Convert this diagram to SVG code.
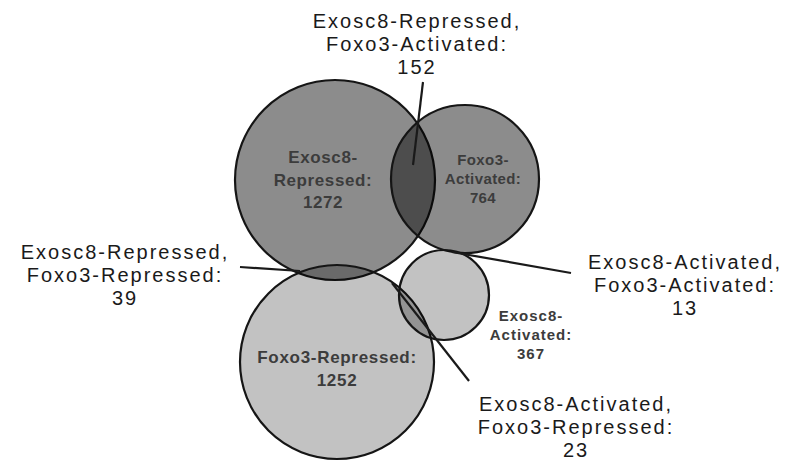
<svg xmlns="http://www.w3.org/2000/svg" width="792" height="465" viewBox="0 0 792 465">
<style>
.circ{stroke:#151515;stroke-width:2.2}
.dark{fill:#000;fill-opacity:0.45}
.light{fill:#000;fill-opacity:0.24}
.lbl{font-family:"Liberation Sans",Arial,sans-serif;font-size:20px;fill:#1a1a1a;text-anchor:middle;letter-spacing:2px}
.inner{font-family:"Liberation Sans",Arial,sans-serif;font-weight:bold;fill:#3c3c3c;text-anchor:middle}
.lead{stroke:#1a1a1a;stroke-width:2.2;fill:none}
</style>
<rect width="792" height="465" fill="#fff"/>
<g id="exosc8-repressed">
<circle class="circ dark" cx="335" cy="180" r="100"/>
<text class="inner" font-size="17" letter-spacing="0.6"><tspan x="323" y="163">Exosc8-</tspan><tspan x="323" y="186">Repressed:</tspan><tspan x="323" y="208">1272</tspan></text>
</g>
<g id="foxo3-activated">
<circle class="circ dark" cx="465" cy="179" r="74"/>
<text class="inner" font-size="15" letter-spacing="0.4"><tspan x="483" y="165">Foxo3-</tspan><tspan x="483" y="184">Activated:</tspan><tspan x="483" y="203">764</tspan></text>
</g>
<g id="foxo3-repressed">
<circle class="circ light" cx="337" cy="362" r="97"/>
<text class="inner" font-size="17" letter-spacing="0.7"><tspan x="337" y="363">Foxo3-Repressed:</tspan><tspan x="337" y="386">1252</tspan></text>
</g>
<g id="exosc8-activated">
<circle class="circ light" cx="444" cy="295" r="45"/>
<text class="inner" font-size="15" letter-spacing="1" fill="#555"><tspan x="531" y="321">Exosc8-</tspan><tspan x="531" y="340">Activated:</tspan><tspan x="531" y="359">367</tspan></text>
</g>
<g id="connectors">
<line class="lead" x1="423" y1="82" x2="413" y2="165"/>
<line class="lead" x1="240" y1="267" x2="300" y2="271"/>
<line class="lead" x1="452" y1="252" x2="571" y2="273"/>
<line class="lead" x1="392" y1="283" x2="469" y2="381"/>
</g>
<g id="label-er-fa">
<text class="lbl"><tspan x="417" y="28">Exosc8-Repressed,</tspan><tspan x="417" y="51">Foxo3-Activated:</tspan><tspan x="417" y="74">152</tspan></text>
</g>
<g id="label-er-fr">
<text class="lbl"><tspan x="125" y="259">Exosc8-Repressed,</tspan><tspan x="125" y="282">Foxo3-Repressed:</tspan><tspan x="125" y="305">39</tspan></text>
</g>
<g id="label-ea-fa">
<text class="lbl"><tspan x="685" y="269">Exosc8-Activated,</tspan><tspan x="685" y="292">Foxo3-Activated:</tspan><tspan x="685" y="315">13</tspan></text>
</g>
<g id="label-ea-fr">
<text class="lbl"><tspan x="576" y="411">Exosc8-Activated,</tspan><tspan x="576" y="434">Foxo3-Repressed:</tspan><tspan x="576" y="457">23</tspan></text>
</g>
</svg>
